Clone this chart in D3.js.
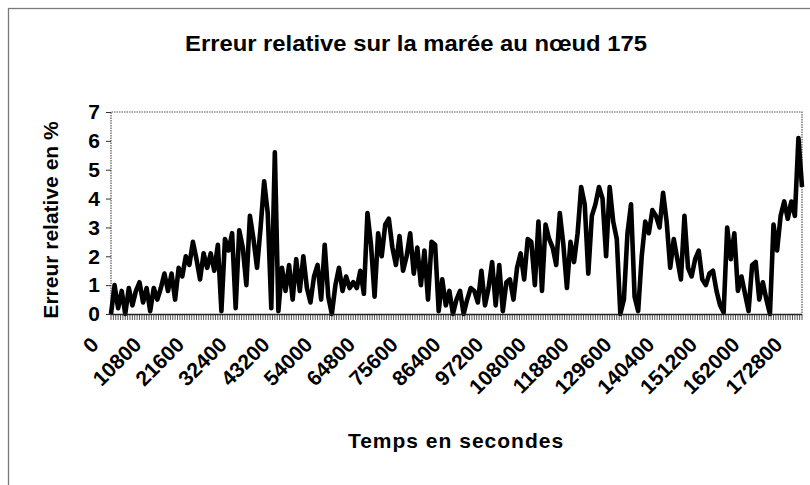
<!DOCTYPE html>
<html>
<head>
<meta charset="utf-8">
<script src="https://cdn.jsdelivr.net/npm/d3@7"></script>
<style>
  body { margin: 0; background: #fff; }
  text { font-family: "Liberation Sans", Arial, sans-serif; font-weight: bold; fill: #000; }
</style>
</head>
<body>
<div id="chart"></div>
<script>
// relative error (%) read every 900 s
var timeStep = 900;
var errValues = [
  0.0,1.0,0.2,0.8,0.0,0.9,0.3,0.8,1.1,0.4,
  0.9,0.1,0.9,0.5,0.9,1.4,0.8,1.4,0.5,1.6,
  1.3,2.0,1.7,2.5,1.9,1.2,2.1,1.6,2.1,1.5,
  2.4,0.1,2.6,2.2,2.8,0.2,2.9,2.3,1.0,3.4,
  2.6,1.6,3.0,4.6,3.5,0.2,5.6,0.1,1.6,0.8,
  1.7,0.5,1.9,0.8,2.0,0.9,0.4,1.3,1.7,0.5,
  2.4,0.6,0.0,1.0,1.6,0.8,1.3,0.9,1.1,0.9,
  1.5,0.7,3.5,2.4,0.6,2.8,2.0,3.1,3.3,2.3,
  1.7,2.7,1.5,2.0,2.8,1.4,2.3,1.0,2.2,0.5,
  2.5,2.4,0.1,1.2,0.3,0.8,0.0,0.5,0.8,0.0,
  0.5,0.9,0.8,0.4,1.5,0.3,0.9,1.8,0.3,1.7,
  0.1,1.1,1.2,0.5,1.6,2.1,1.2,2.6,2.5,1.0,
  3.2,0.8,3.1,2.6,2.3,1.7,3.5,2.4,0.9,2.5,
  1.8,2.8,4.4,3.8,1.4,3.4,3.8,4.4,4.0,2.0,
  4.4,3.2,2.6,0.0,0.5,2.8,3.8,0.6,0.1,2.0,
  3.2,2.8,3.6,3.4,3.0,4.2,3.2,1.6,2.6,1.9,
  1.2,3.4,1.6,1.3,1.9,2.2,1.2,1.0,1.4,1.5,
  0.8,0.3,0.05,3.0,1.9,2.8,0.8,1.3,0.7,0.1,
  1.7,1.8,0.5,1.1,0.5,0.0,3.1,2.2,3.4,3.9,
  3.3,3.9,3.4,6.1,4.4
];
var xTickLabels = [0, 10800, 21600, 32400, 43200, 54000, 64800, 75600, 86400,
                   97200, 108000, 118800, 129600, 140400, 151200, 162000, 172800];
var yTickLabels = [0, 1, 2, 3, 4, 5, 6, 7];

var data = errValues.map((v, i) => ({t: i * timeStep, v: v}));

var margin = {top: 112, right: 8, bottom: 171, left: 111},
    width = 810 - margin.left - margin.right,
    height = 485 - margin.top - margin.bottom;

var xScale = d3.scaleLinear().domain([0, (errValues.length - 1) * timeStep]).range([0, width]);
var yScale = d3.scaleLinear().domain([0, 7]).range([height, 0]);

var root = d3.select('#chart').append('svg')
    .attr('width', 810)
    .attr('height', 485);

// outer chart frame
root.append('rect')
    .attr('x', 8.5).attr('y', 8.5)
    .attr('width', 840).attr('height', 520)
    .style('fill', 'none')
    .style('stroke', '#7a7a7a')
    .style('stroke-width', 1.3);

root.append('text')
    .attr('x', 416)
    .attr('y', 51)
    .attr('text-anchor', 'middle')
    .attr('textLength', 462)
    .attr('lengthAdjust', 'spacingAndGlyphs')
    .style('font-size', '22px')
    .text('Erreur relative sur la marée au nœud 175');

var svg = root.append('g')
    .attr('transform', 'translate(' + margin.left + ',' + margin.top + ')');

// plot area border (dotted)
svg.append('path')
    .attr('d', 'M0,' + height + 'V0H' + width + 'V' + height)
    .style('fill', 'none')
    .style('stroke', '#555')
    .style('stroke-width', 1.2)
    .style('stroke-dasharray', '1.5,1');

// dense category tick marks under the axis
var minorTicks = d3.range(0, xScale.domain()[1] + 1, 600);
svg.append('g')
    .selectAll('line')
    .data(minorTicks)
    .join('line')
    .attr('x1', d => xScale(d)).attr('x2', d => xScale(d))
    .attr('y1', height).attr('y2', height + 6)
    .style('stroke', '#555')
    .style('stroke-width', 1);

var line = d3.line()
    .x(d => xScale(d.t))
    .y(d => yScale(d.v));

svg.append('path')
    .datum(data)
    .attr('d', line)
    .style('fill', 'none')
    .style('stroke', '#000')
    .style('stroke-width', 4.6)
    .style('stroke-linejoin', 'round');

// bottom axis line
svg.append('line')
    .attr('x1', 0).attr('x2', width)
    .attr('y1', height + 0.5).attr('y2', height + 0.5)
    .style('stroke', '#222')
    .style('stroke-width', 1.5);

// y axis
var yAxis = d3.axisLeft(yScale).tickValues(yTickLabels).tickFormat(d3.format('d')).tickSize(5).tickPadding(6);
var gy = svg.append('g').call(yAxis);
gy.select('.domain').remove();
gy.selectAll('.tick line').style('stroke', '#333');
gy.selectAll('.tick text')
    .style('font-size', '21px')
    .style('font-family', '"Liberation Sans", Arial, sans-serif')
    .style('font-weight', 'bold');

// x tick labels, rotated
svg.append('g')
    .selectAll('text')
    .data(xTickLabels)
    .join('text')
    .attr('text-anchor', 'end')
    .attr('transform', d => 'translate(' + (xScale(d) - 11) + ',' + (height + 32) + ') rotate(-45)')
    .style('font-size', '21px')
    .text(d => d);

// axis titles
svg.append('text')
    .attr('x', 456 - margin.left)
    .attr('y', 448 - margin.top)
    .attr('text-anchor', 'middle')
    .style('font-size', '21px')
    .style('letter-spacing', '1px')
    .text('Temps en secondes');

svg.append('text')
    .attr('transform', 'translate(' + (58 - margin.left) + ',' + (220 - margin.top) + ') rotate(-90)')
    .attr('text-anchor', 'middle')
    .style('font-size', '21px')
    .text('Erreur relative en %');
</script>
</body>
</html>
